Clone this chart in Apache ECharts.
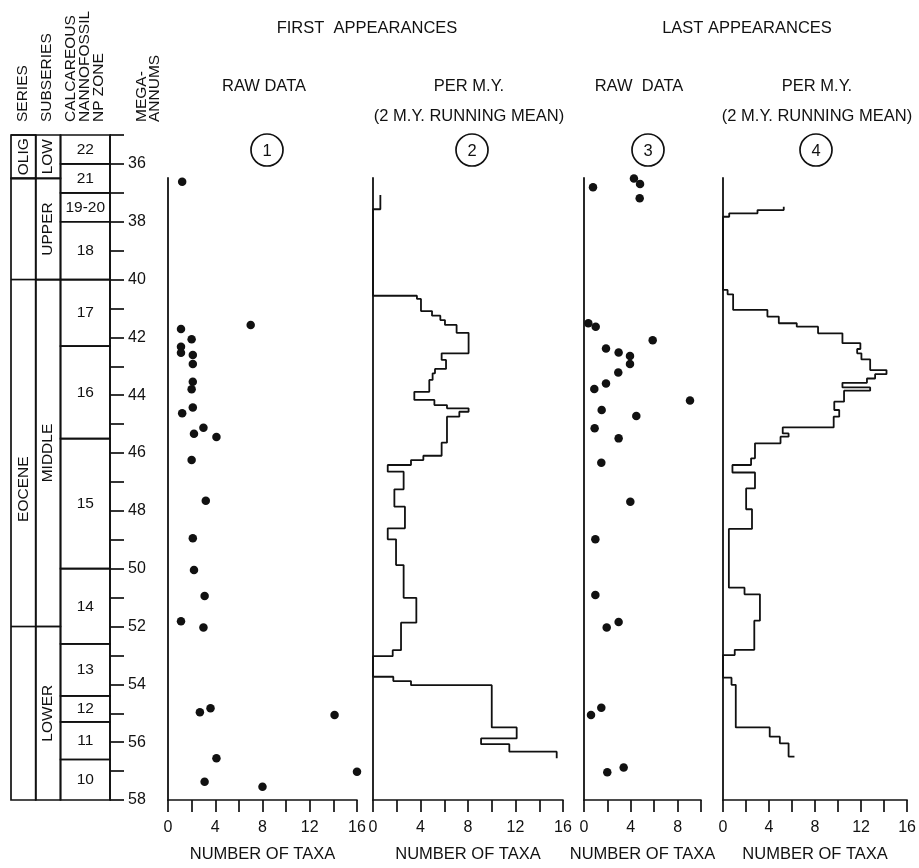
<!DOCTYPE html>
<html><head><meta charset="utf-8">
<script src="https://cdn.jsdelivr.net/npm/echarts@6/dist/echarts.min.js"></script>
<style>html,body{margin:0;padding:0;background:#fff}#c{width:919px;height:868px}</style>
</head><body><div id="c"></div>
<script>
// ---------- Stratigraphic column (ages in Ma) ----------
const seriesNames = ['OLIG', 'EOCENE'];
const seriesBounds = [35, 36.5, 58];
const subseriesNames = ['LOW', 'UPPER', 'MIDDLE', 'LOWER'];
const subseriesBounds = [35, 36.5, 40, 52, 58];
const zoneNames = ['22', '21', '19-20', '18', '17', '16', '15', '14', '13', '12', '11', '10'];
const zoneBounds = [35, 36, 37, 38, 40, 42.3, 45.5, 50, 52.6, 54.4, 55.3, 56.6, 58];
const maTicks = [36, 38, 40, 42, 44, 46, 48, 50, 52, 54, 56, 58];

// ---------- Panel 1: first appearances, raw data ----------
const p1Taxa = [1.2, 7.0, 1.1, 2.0, 1.1, 1.1, 2.1, 2.1, 2.1, 2.0, 2.1, 1.2, 3.0, 2.2, 4.1, 2.0, 3.2, 2.1, 2.2, 3.1, 1.1, 3.0, 3.6, 2.7, 14.1, 4.1, 16.0, 3.1, 8.0];
const p1Age = [36.63, 41.58, 41.72, 42.07, 42.33, 42.54, 42.62, 42.93, 43.54, 43.80, 44.43, 44.63, 45.13, 45.34, 45.45, 46.25, 47.66, 48.95, 50.05, 50.95, 51.82, 52.04, 54.83, 54.97, 55.06, 56.56, 57.02, 57.37, 57.54];

// ---------- Panel 2: first appearances per m.y. (step boundaries / values) ----------
const p2Bounds = [37.09, 37.58, 40.57, 40.68, 41.10, 41.26, 41.41, 41.58, 41.85, 42.56, 42.79, 43.10, 43.25, 43.48, 43.89, 44.17, 44.35, 44.46, 44.58, 44.75, 45.65, 46.10, 46.25, 46.42, 46.65, 47.26, 47.86, 48.61, 48.99, 49.88, 51.01, 51.87, 52.82, 53.03, 53.74, 53.89, 54.03, 55.49, 55.87, 56.07, 56.33, 56.56];
const p2Values = [0.62, 0, 3.7, 4.04, 4.97, 5.67, 6.06, 7.04, 8.05, 5.78, 6.15, 5.22, 5.02, 4.74, 3.48, 5.17, 6.23, 8.05, 7.27, 6.23, 5.78, 4.24, 3.2, 1.24, 2.58, 1.8, 2.69, 1.24, 1.94, 2.58, 3.65, 2.36, 1.66, 0, 1.71, 3.2, 10, 12.1, 9.1, 11.48, 15.47];

// ---------- Panel 3: last appearances, raw data ----------
const p3Taxa = [0.77, 4.27, 4.79, 4.76, 0.37, 1.0, 5.87, 1.88, 2.96, 3.93, 3.93, 2.93, 1.88, 0.88, 9.06, 1.51, 4.47, 0.91, 2.96, 1.48, 3.96, 0.97, 0.97, 2.96, 1.94, 1.48, 0.6, 3.39, 1.99];
const p3Age = [36.82, 36.52, 36.71, 37.2, 41.52, 41.64, 42.11, 42.39, 42.53, 42.65, 42.93, 43.22, 43.60, 43.79, 44.19, 44.52, 44.73, 45.15, 45.5, 46.34, 47.69, 48.99, 50.91, 51.85, 52.04, 54.81, 55.06, 56.88, 57.04];

// ---------- Panel 4: last appearances per m.y. ----------
const p4Bounds = [37.49, 37.61, 37.72, 37.84, 40.37, 40.52, 41.06, 41.29, 41.52, 41.64, 41.87, 42.21, 42.41, 42.56, 42.77, 43.14, 43.28, 43.43, 43.58, 43.74, 43.85, 44.23, 44.52, 44.75, 45.12, 45.33, 45.44, 45.67, 46.19, 46.42, 46.68, 47.23, 47.95, 48.63, 50.66, 50.89, 51.80, 52.81, 52.99, 53.77, 54.02, 55.49, 55.81, 56.04, 56.50, 56.50];
const p4Values = [5.28, 3.0, 0.54, 0, 0.4, 0.88, 3.86, 4.85, 6.41, 8.26, 10.38, 11.94, 11.66, 12.03, 12.79, 14.21, 13.22, 12.51, 10.38, 12.79, 10.52, 9.67, 10.1, 9.62, 5.19, 5.7, 5.0, 2.78, 2.44, 0.82, 2.78, 2.01, 2.52, 0.51, 1.87, 3.21, 2.72, 1.02, 0, 0.74, 1.11, 4.06, 4.94, 5.7, 6.21];

// ---------- Text ----------
const groupTitles = ['FIRST  APPEARANCES', 'LAST APPEARANCES'];
const panelTitles = [['RAW DATA'], ['PER M.Y.', '(2 M.Y. RUNNING MEAN)'], ['RAW  DATA'], ['PER M.Y.', '(2 M.Y. RUNNING MEAN)']];
const panelNumbers = ['1', '2', '3', '4'];
const colHeaders = ['SERIES', 'SUBSERIES', 'CALCAREOUS', 'NANNOFOSSIL', 'NP ZONE', 'MEGA-', 'ANNUMS'];
const xName = 'NUMBER OF TAXA';
const panelMax = [16, 16, 10, 16];

// ---------- Build ----------
const FONT = 'Liberation Sans, Arial, sans-serif';
const INK = '#111';
const chart = echarts.init(document.getElementById('c'), null, {renderer: 'canvas'});

function zip(a, b) { return a.map((v, i) => [v, b[i]]); }
function steps(bounds, vals) {
  const pts = [];
  for (let i = 0; i < vals.length; i++) { pts.push([vals[i], bounds[i]]); pts.push([vals[i], bounds[i + 1]]); }
  return pts;
}
function cells(names, bounds, c0, c1) {
  return names.map((n, i) => ({name: n, value: [c0, c1, bounds[i], bounds[i + 1]]}));
}
function cellRenderer(names, rotated, extendLeft) {
  return function (params, api) {
    const a = api.coord([api.value(0), api.value(2)]);
    const b = api.coord([api.value(1), api.value(3)]);
    const children = [{
      type: 'rect', shape: {x: a[0], y: a[1], width: b[0] - a[0], height: b[1] - a[1]},
      style: {fill: 'none', stroke: INK, lineWidth: 1.7}
    }];
    if (extendLeft) {
      const l = api.coord([0, api.value(2)]);
      children.push({type: 'line', shape: {x1: l[0], y1: l[1], x2: a[0], y2: a[1]}, style: {stroke: INK, lineWidth: 1.7}});
    }
    children.push({
      type: 'text', x: (a[0] + b[0]) / 2, y: (a[1] + b[1]) / 2, rotation: rotated ? Math.PI / 2 : 0,
      style: {text: names[params.dataIndex], fontSize: 15.5, fontFamily: FONT, fill: INK, align: 'center', verticalAlign: 'middle'}
    });
    return {type: 'group', children};
  };
}

const grids = [
  {left: 11, top: 135, width: 99, height: 665},
  {left: 168, top: 178, width: 189, height: 622},
  {left: 373, top: 178, width: 190, height: 622},
  {left: 584, top: 178, width: 117, height: 622},
  {left: 723, top: 178, width: 188, height: 622}
];

const xAxes = [{gridIndex: 0, type: 'value', min: 0, max: 4, show: false}];
const yAxes = [{
  gridIndex: 0, type: 'value', min: 35, max: 58, inverse: true, position: 'right', interval: 1,
  axisLine: {show: true, onZero: false, lineStyle: {color: INK, width: 1.7}},
  axisTick: {show: true, length: 14, lineStyle: {color: INK, width: 1.7}},
  splitLine: {show: false},
  axisLabel: {margin: 18, fontSize: 16, fontFamily: FONT, color: INK, formatter: v => maTicks.indexOf(v) >= 0 ? String(v) : ''}
}];
for (let i = 0; i < 4; i++) {
  xAxes.push({
    gridIndex: i + 1, type: 'value', min: 0, max: panelMax[i], interval: 2,
    name: xName, nameLocation: 'middle', nameGap: 46,
    nameTextStyle: {fontSize: 16.5, fontFamily: FONT, color: INK},
    axisLine: {show: true, onZero: false, lineStyle: {color: INK, width: 1.7}},
    axisTick: {show: true, length: 12, lineStyle: {color: INK, width: 1.7}},
    splitLine: {show: false},
    axisLabel: {margin: 20, fontSize: 16, fontFamily: FONT, color: INK, showMaxLabel: true, formatter: v => v % 4 === 0 ? String(v) : ''}
  });
  yAxes.push({
    gridIndex: i + 1, type: 'value', min: 36.5, max: 58, inverse: true,
    axisLine: {show: true, onZero: false, lineStyle: {color: INK, width: 1.8}},
    axisTick: {show: false}, axisLabel: {show: false}, splitLine: {show: false}
  });
}

const graphic = [];
const titleXs = [367, 747];
groupTitles.forEach((t, i) => graphic.push({type: 'text', x: titleXs[i], y: 28,
  style: {text: t, fontSize: 16.5, fontFamily: FONT, fill: INK, align: 'center', verticalAlign: 'middle'}}));
const panelXs = [264, 469, 639, 817];
const circleXs = [267, 472, 648, 816];
panelTitles.forEach((lines, i) => {
  lines.forEach((t, j) => graphic.push({type: 'text', x: panelXs[i], y: 86 + j * 30,
    style: {text: t, fontSize: 16.5, fontFamily: FONT, fill: INK, align: 'center', verticalAlign: 'middle'}}));
  graphic.push({type: 'circle', shape: {cx: circleXs[i], cy: 150, r: 16}, style: {fill: 'none', stroke: INK, lineWidth: 1.7}});
  graphic.push({type: 'text', x: circleXs[i], y: 151,
    style: {text: panelNumbers[i], fontSize: 16.5, fontFamily: FONT, fill: INK, align: 'center', verticalAlign: 'middle'}});
});
const headerXs = [23, 47, 71, 85, 99, 142, 155];
colHeaders.forEach((t, i) => graphic.push({type: 'text', x: headerXs[i], y: 122, rotation: Math.PI / 2,
  style: {text: t, fontSize: 15.5, fontFamily: FONT, fill: INK, align: 'left', verticalAlign: 'middle'}}));

const option = {
  animation: false,
  backgroundColor: '#fff',
  grid: grids,
  xAxis: xAxes,
  yAxis: yAxes,
  graphic: graphic,
  series: [
    {type: 'custom', xAxisIndex: 0, yAxisIndex: 0, renderItem: cellRenderer(seriesNames, true, false),
      encode: {x: [0, 1], y: [2, 3]}, data: cells(seriesNames, seriesBounds, 0, 1), clip: false},
    {type: 'custom', xAxisIndex: 0, yAxisIndex: 0, renderItem: cellRenderer(subseriesNames, true, true),
      encode: {x: [0, 1], y: [2, 3]}, data: cells(subseriesNames, subseriesBounds, 1, 2), clip: false},
    {type: 'custom', xAxisIndex: 0, yAxisIndex: 0, renderItem: cellRenderer(zoneNames, false, false),
      encode: {x: [0, 1], y: [2, 3]}, data: cells(zoneNames, zoneBounds, 2, 4), clip: false},
    {type: 'scatter', xAxisIndex: 1, yAxisIndex: 1, symbol: 'circle', symbolSize: 8.5, itemStyle: {color: INK, opacity: 1}, data: zip(p1Taxa, p1Age), clip: false},
    {type: 'line', xAxisIndex: 2, yAxisIndex: 2, showSymbol: false, symbol: 'none', lineStyle: {color: INK, width: 1.8}, data: steps(p2Bounds, p2Values), clip: false},
    {type: 'scatter', xAxisIndex: 3, yAxisIndex: 3, symbol: 'circle', symbolSize: 8.5, itemStyle: {color: INK, opacity: 1}, data: zip(p3Taxa, p3Age), clip: false},
    {type: 'line', xAxisIndex: 4, yAxisIndex: 4, showSymbol: false, symbol: 'none', lineStyle: {color: INK, width: 1.8}, data: steps(p4Bounds, p4Values), clip: false}
  ]
};
chart.setOption(option);
</script>
</body></html>
